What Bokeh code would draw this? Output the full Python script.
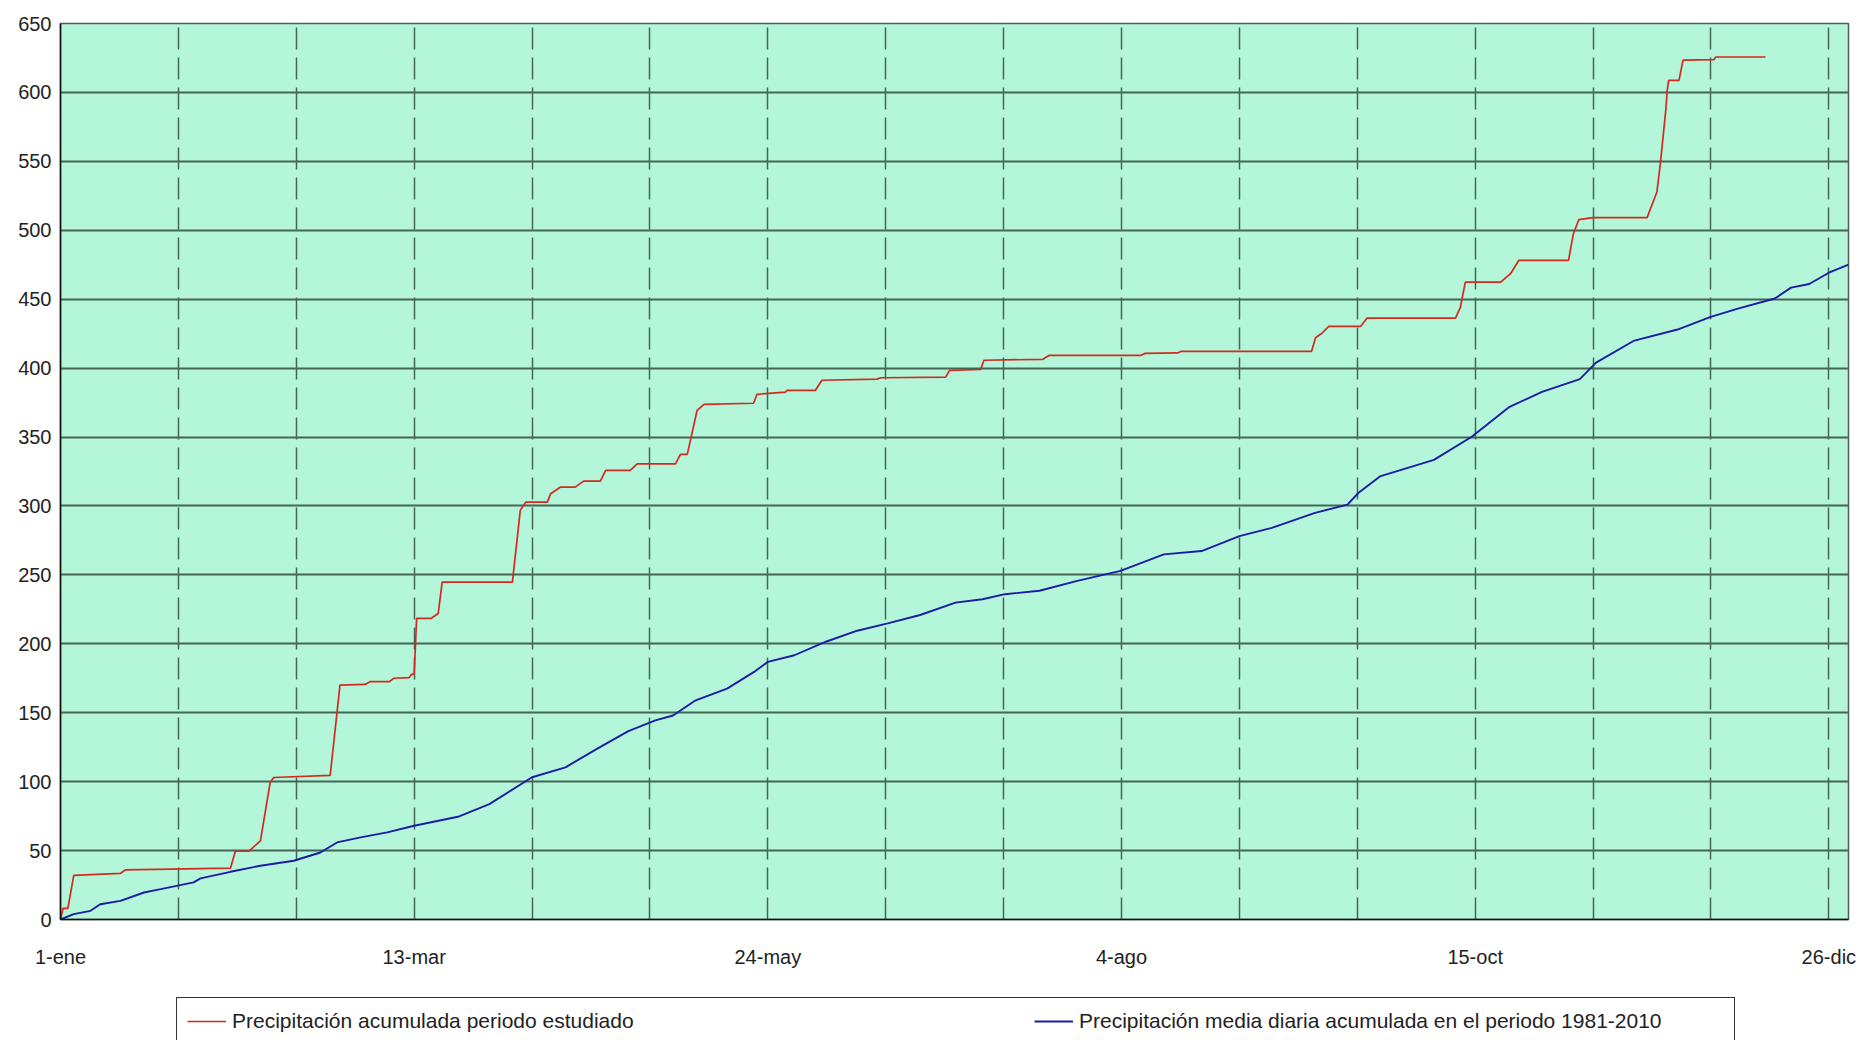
from bokeh.plotting import figure
from bokeh.models import FixedTicker, Legend, LegendItem, Range1d
from bokeh.layouts import column
from bokeh.embed import file_html
from bokeh.resources import INLINE

# ---------------- data ----------------
tick_days = [0, 72, 144, 216, 288, 360]
tick_labels = ["1-ene", "13-mar", "24-may", "4-ago", "15-oct", "26-dic"]
y_ticks = list(range(0, 651, 50))
grid_days = list(range(24, 361, 24))

label_red = "Precipitación acumulada periodo estudiado"
label_blue = "Precipitación media diaria acumulada en el periodo 1981-2010"

red_day = [0, 0.5, 1.5, 2.7, 12.2, 13.2, 34.6, 35.6, 38.3, 40.7, 42.7, 43.4,
           54.9, 56.9, 62, 63, 67, 67.8, 71, 71.5, 72, 72.5, 75.5, 76.9, 77.7,
           92, 93.6, 94.7, 99.1, 99.8, 101.8, 104.8, 106.5, 109.9, 111, 116,
           117.4, 125.2, 126.2, 127.6, 129.6, 131, 141.1, 141.8, 147.6, 147.9,
           153.7, 155, 166.2, 167, 180.2, 181, 187.3, 188, 200, 201.3, 220,
           220.8, 227.4, 228.2, 254.7, 255.5, 256.8, 258.2, 264.7, 266, 284,
           285, 286, 293.2, 295.2, 296.9, 307, 308, 309.1, 312, 323, 325,
           325.7, 326.8, 327.1, 327.4, 329.5, 330.3, 336.6, 337, 347.1]
red_val = [0, 8, 8, 32, 33.4, 36, 37.2, 49.5, 49.5, 57, 99.6, 103,
           104.5, 170, 170.5, 172.5, 172.5, 175, 175.5, 178, 178, 218.5, 218.5, 222, 244.8,
           244.8, 296.8, 302.8, 302.8, 308.9, 313.7, 313.7, 318, 318, 325.8, 325.8,
           330.6, 330.6, 337.4, 337.4, 369.4, 373.7, 374.5, 381, 382.6, 383.9,
           383.9, 391.2, 392, 393, 393.5, 398.4, 399, 405.7, 406.4, 409.3, 409.3,
           410.7, 411, 412.2, 412.2, 422, 425.3, 430.3, 430.3, 436.3, 436.3,
           444.3, 462.4, 462.4, 468.5, 478.2, 478.2, 497.5, 507.7, 509.2, 509.2, 527.8,
           548.3, 587, 601.6, 608.8, 608.8, 623.4, 623.8, 625.7, 625.7]

blue_day = [0, 2.7, 6.1, 8.1, 12.2, 17, 20.4, 27.1, 28.5, 34.6, 40.7, 47.5,
            52.9, 56.3, 61.1, 66.5, 72, 80.9, 87.3, 96, 102.8, 109.2, 115.6,
            121.1, 124.7, 129.3, 135.7, 141.2, 144, 149.4, 155.8, 162.2, 168.4,
            175, 182.2, 187.7, 192.3, 199.3, 207, 215.8, 224.6, 232.3, 240,
            246.6, 255.4, 262, 264.2, 268.6, 279.6, 287.3, 295, 301.6, 309.3,
            312.6, 320.4, 329.2, 335.8, 341.3, 349, 352.3, 356, 360, 364]
blue_val = [0, 3.9, 6.3, 11.1, 13.5, 19.6, 22, 26.9, 29.8, 34.6, 39, 42.6,
            48.6, 55.9, 59.6, 63.2, 68, 74.5, 83.7, 103.2, 110.4, 123.8, 136.6,
            144.4, 148, 159, 167.5, 179.6, 186.9, 191.7, 201.5, 209.5, 214.8,
            220.9, 229.9, 232.3, 236, 238.5, 245.7, 252.9, 264.9, 267.3, 278.1,
            284.1, 295, 301, 309.4, 321.4, 333.4, 350.2, 371.9, 382.7, 392,
            404, 420, 428, 437, 443, 450.5, 458.4, 461, 469.2, 475]

# ---------------- styles ----------------
FONT = "Liberation Sans"
RED = "#d42a1e"
BLUE = "#1c1ca6"

# ---------------- main chart ----------------
p = figure(width=1861, height=989,
           x_range=Range1d(0, 364), y_range=Range1d(0, 650),
           output_backend="svg", toolbar_location=None,
           min_border_left=60, min_border_right=13,
           min_border_top=23, min_border_bottom=70)
p.background_fill_color = "#b3f6da"
p.border_fill_color = "white"
p.outline_line_color = "#4f5e57"
p.outline_line_width = 1.5

p.xaxis.ticker = FixedTicker(ticks=tick_days)
p.xaxis.major_label_overrides = {d: l for d, l in zip(tick_days, tick_labels)}
p.yaxis.ticker = FixedTicker(ticks=y_ticks)
for ax in (p.xaxis, p.yaxis):
    ax.major_tick_in = 0
    ax.major_tick_out = 0
    ax.minor_tick_line_color = None
    ax.axis_line_color = "#111111"
    ax.axis_line_width = 1.5
    ax.major_label_text_font = FONT
    ax.major_label_text_font_size = "20px"
    ax.major_label_text_color = "#222222"
p.xaxis.major_label_standoff = 26
p.yaxis.major_label_standoff = 9

p.xgrid.ticker = FixedTicker(ticks=grid_days)
p.xgrid.grid_line_color = "#466555"
p.xgrid.grid_line_width = 1.5
p.xgrid.grid_line_dash = "22 8"
p.ygrid.ticker = FixedTicker(ticks=y_ticks)
p.ygrid.grid_line_color = "#466555"
p.ygrid.grid_line_width = 1.8

p.line(red_day, red_val, line_color=RED, line_width=1.7)
p.line(blue_day, blue_val, line_color=BLUE, line_width=1.9)

# ---------------- legend strip below the chart ----------------
# same series drawn again in a view range that shows none of them,
# only so that the legend has line glyphs to show
lg = figure(width=1861, height=51, x_range=Range1d(-20, -10), y_range=Range1d(-20, -10),
            output_backend="svg", toolbar_location=None,
            x_axis_location=None, y_axis_location=None, min_border=0)
lg.grid.visible = False
lg.outline_line_color = None
lg.background_fill_color = "white"
lg.border_fill_color = "white"
k_red = lg.line(red_day, red_val, line_color=RED, line_width=1.7)
k_blue = lg.line(blue_day, blue_val, line_color=BLUE, line_width=1.9)

legend = Legend(items=[LegendItem(label=label_red, renderers=[k_red]),
                       LegendItem(label=label_blue, renderers=[k_blue])],
                orientation="horizontal", location=(116, -5),
                padding=10, spacing=157, margin=0,
                glyph_width=39, glyph_height=26, label_height=26,
                label_width=645, label_standoff=6,
                label_text_font=FONT, label_text_font_size="21px",
                label_text_color="#222222",
                border_line_color="#333333", border_line_alpha=1.0,
                border_line_width=1.2,
                background_fill_color="white", background_fill_alpha=1.0)
lg.add_layout(legend)

open("out.html", "w").write(file_html(column(p, lg, spacing=0), INLINE))
